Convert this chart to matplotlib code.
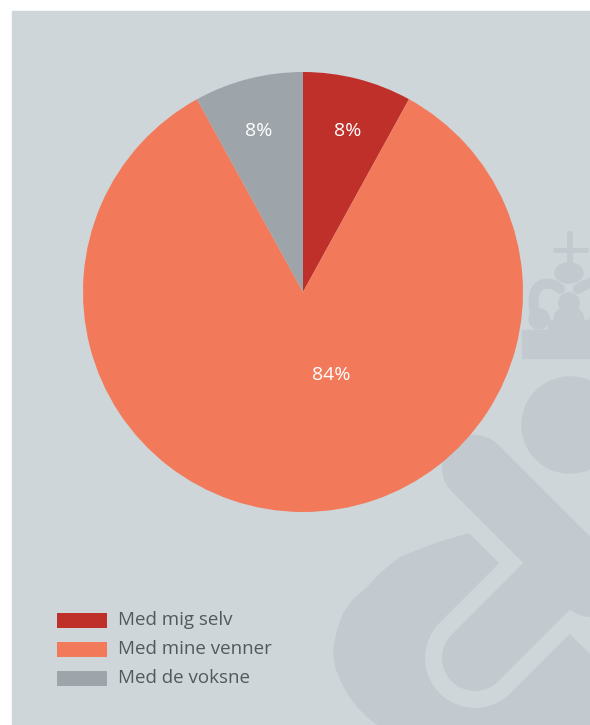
import matplotlib
matplotlib.use("Agg")
import matplotlib.pyplot as plt
from matplotlib.patches import Rectangle, Circle, Ellipse, Polygon, PathPatch
from matplotlib.path import Path

# ---- data ----
categories = ["Med mig selv", "Med mine venner", "Med de voksne"]
values = [8, 84, 8]
colors = ["#c0302a", "#f27a5b", "#9da5ab"]

W, H = 590, 725
BG = "#ced6d9"
WM = "#c2c9cf"
TXT = "#53585c"
FONT = ["Open Sans", "DejaVu Sans"]

def Y(y):
    return H - y

fig = plt.figure(figsize=(W / 100, H / 100), dpi=100)
ax = fig.add_axes([0, 0, 1, 1])
ax.set_xlim(0, W)
ax.set_ylim(0, H)
ax.axis("off")

PX = 0.72  # points per pixel at dpi 100

# panel
ax.add_patch(Rectangle((12, 0), W - 12, H - 11, color=BG, zorder=0))

# ---- watermark (decorative) ----
# crown
ax.add_patch(Rectangle((522, Y(358)), 80, 28, color=WM, zorder=1))
ax.plot([570, 570], [Y(234), Y(262)], color=WM, lw=6 * PX, solid_capstyle="round", zorder=1)
ax.plot([555, 586], [Y(250), Y(250)], color=WM, lw=5 * PX, solid_capstyle="round", zorder=1)
ax.add_patch(Ellipse((569, Y(273)), 28, 20, color=WM, zorder=1))
ax.add_patch(Circle((569, Y(303)), 10, color=WM, zorder=1))
ax.add_patch(Ellipse((569, Y(318)), 29, 22, color=WM, zorder=1))
ax.add_patch(Circle((539, Y(319)), 10, color=WM, zorder=1))
ax.add_patch(Ellipse((600, Y(319)), 20, 20, color=WM, zorder=1))
arch = Path([(536, Y(318)), (526, Y(282)), (548, Y(278)), (560, Y(289))],
            [Path.MOVETO, Path.CURVE4, Path.CURVE4, Path.CURVE4])
ax.add_patch(PathPatch(arch, fill=False, ec=WM, lw=10 * PX, capstyle="round", zorder=1))
arch2 = Path([(578, Y(289)), (592, Y(280)), (600, Y(280)), (605, Y(290))],
             [Path.MOVETO, Path.CURVE4, Path.CURVE4, Path.CURVE4])
ax.add_patch(PathPatch(arch2, fill=False, ec=WM, lw=10 * PX, capstyle="round", zorder=1))
ax.add_patch(Rectangle((548, Y(332)), 50, 12, color=WM, zorder=1))

# ampersand-like shape
ax.add_patch(Circle((570, Y(425)), 48, color=WM, zorder=1))
blob = [(498, 562), (469, 533), (435, 543), (400, 557), (380, 573), (367, 587),
        (352, 600), (343, 613), (337, 630), (333, 650), (335, 667), (340, 680),
        (348, 695), (357, 707), (367, 717), (377, 725), (590, 725), (590, 654)]
ax.add_patch(Polygon([(x, Y(y)) for x, y in blob], closed=True, color=WM, lw=0, zorder=1))
ax.plot([475, 548], [Y(658), Y(585)], color=BG, lw=100 * PX, solid_capstyle="round", zorder=2)
ax.plot([475, 720], [Y(468), Y(713)], color=WM, lw=66 * PX, solid_capstyle="round", zorder=3)
ax.plot([475, 548], [Y(658), Y(585)], color=WM, lw=66 * PX, solid_capstyle="round", zorder=3)

# ---- pie ----
cx, cy, R = 303, Y(292), 220
wedges, texts, autotexts = ax.pie(
    values, colors=colors, startangle=90, counterclock=False,
    center=(cx, cy), radius=R, autopct="%d%%", pctdistance=0.75,
    wedgeprops=dict(linewidth=0), frame=True,
    textprops=dict(color="white", fontsize=14, family=FONT))
for w in wedges:
    w.set_zorder(5)
for t in autotexts:
    t.set_zorder(6)
autotexts[0].set_position((cx + 45, cy + 161))
autotexts[2].set_position((cx - 44, cy + 161))
autotexts[1].set_position((cx + 28, cy - 83))
ax.set_xlim(0, W)
ax.set_ylim(0, H)
ax.axis("off")

# ---- legend ----
leg_y = [620, 649, 678]
for cat, col, ly in zip(categories, colors, leg_y):
    ax.add_patch(Rectangle((57, Y(ly) - 7.5), 50, 15, color=col, lw=0, zorder=7))
    ax.text(118, Y(ly), cat, color=TXT, fontsize=13.5, family=FONT,
            va="center", ha="left", zorder=7)

fig.savefig("out.png", dpi=100, facecolor="white")
